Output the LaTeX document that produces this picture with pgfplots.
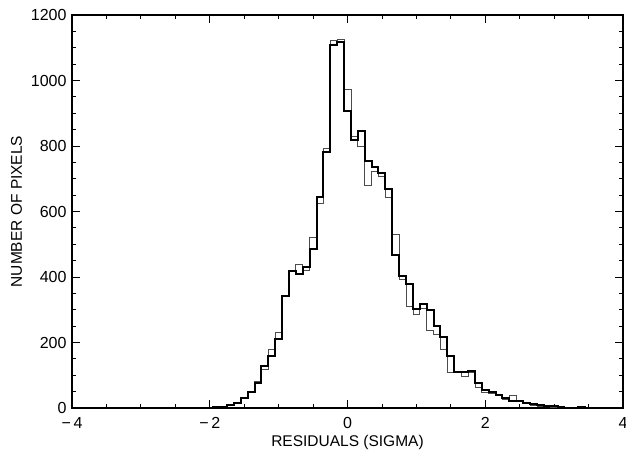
\documentclass[border=0pt]{standalone}
\usepackage{fontspec}
\setmainfont{Liberation Sans}
\usepackage{pgfplots}
\usepackage{pgfplotstable}
\pgfplotsset{compat=1.18}

% left bin edge, thick histogram, thin histogram
\pgfplotstableread{
x      thick thin
-4.00  0     0
-2.05  1     1
-1.95  2     2
-1.85  4     4
-1.75  9     7
-1.65  16    14
-1.55  30    28
-1.45  48    52
-1.35  76    81
-1.25  129   119
-1.15  160   180
-1.05  211   232
-0.95  342   344
-0.85  419   421
-0.75  409   440
-0.65  430   419
-0.55  486   522
-0.45  645   625
-0.35  782   794
-0.25  1107  1122
-0.15  1117  1127
-0.05  907   972
0.05   819   830
0.15   847   799
0.25   755   679
0.35   737   722
0.45   718   708
0.55   669   642
0.65   466   529
0.75   402   394
0.85   378   311
0.95   301   286
1.05   317   304
1.15   300   238
1.25   250   225
1.35   216   178
1.45   158   108
1.55   110   112
1.65   109   96
1.75   112   110
1.85   76    64
1.95   55    47
2.05   50    45
2.15   40    38
2.25   30    27
2.35   22    40
2.45   22    19
2.55   16    14
2.65   11    9
2.75   8     6
2.85   6     4
2.95   5     3
3.05   2     2
3.15   1     1
3.25   0     1
3.35   3     2
3.45   0     0
4.00   0     0
}\hist

\begin{document}
\begin{tikzpicture}
\begin{axis}[
  scale only axis,
  width=551pt, height=393pt,
  xmin=-4, xmax=4, ymin=0, ymax=1200,
  xtick={-4,-2,0,2,4},
  xticklabels={−\,4,−\,2,0,2,4},
  ytick={0,200,...,1200},
  minor x tick num=3, minor y tick num=3,
  tick align=inside,
  major tick length=8pt, minor tick length=4pt,
  axis line style={line width=1.2pt},
  every tick/.style={black, line width=0.8pt},
  tick label style={font=\fontsize{16}{18}\selectfont},
  xticklabel style={yshift=-6pt},
  yticklabel style={xshift=-2pt},
  label style={font=\fontsize{15.5}{18}\selectfont},
  /pgf/number format/assume math mode=true,
  /pgf/number format/1000 sep={},
  xlabel={RESIDUALS (SIGMA)},
  ylabel={NUMBER OF PIXELS},
  xlabel style={yshift=0pt},
  ylabel style={yshift=2pt},
]
\addplot[const plot, black!70, line width=0.8pt] table[x=x, y=thin]{\hist};
\addplot[const plot, black, line width=2pt] table[x=x, y=thick]{\hist};
\coordinate (sw) at (rel axis cs:0,0);
\coordinate (ne) at (rel axis cs:1,1);
\end{axis}
\pgfresetboundingbox
\path ([xshift=-72pt,yshift=-41pt]sw) rectangle ([xshift=3pt,yshift=15pt]ne);
\end{tikzpicture}
\end{document}
